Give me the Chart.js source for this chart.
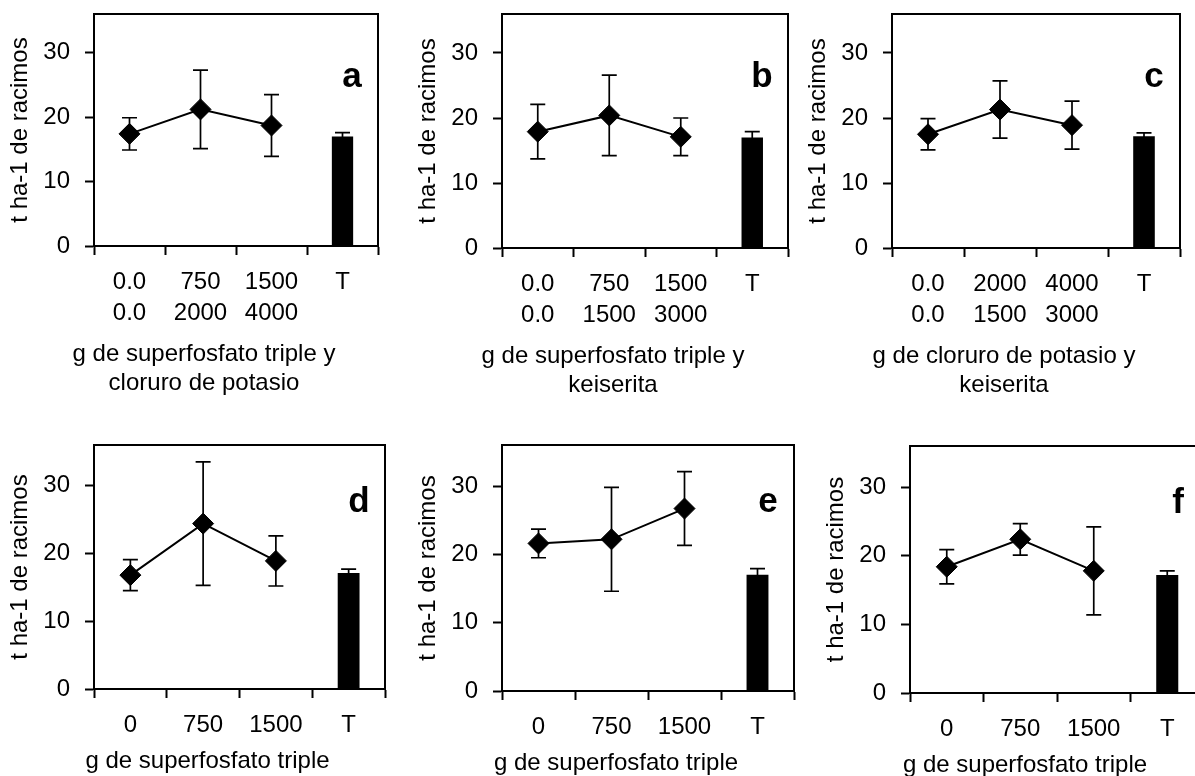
<!DOCTYPE html>
<html lang="es">
<head>
<meta charset="UTF-8">
<title>Rendimiento de racimos</title>
<script src="https://cdn.jsdelivr.net/npm/chart.js@4"></script>
<style>
  html, body { margin: 0; padding: 0; background: #fff; overflow: hidden; }
  body { width: 1195px; height: 776px; position: relative; }
  canvas { position: absolute; }
</style>
</head>
<body>
<script>
// etiquetas del eje x (dosis en g por planta)
const etiquetasA = [['0.0', '0.0'], ['750', '2000'], ['1500', '4000'], 'T'];
const etiquetasB = [['0.0', '0.0'], ['750', '1500'], ['1500', '3000'], 'T'];
const etiquetasC = [['0.0', '0.0'], ['2000', '1500'], ['4000', '3000'], 'T'];
const etiquetasD = ['0', '750', '1500', 'T'];
const ticksY = [0, 10, 20, 30];

// medias de rendimiento (t ha-1) y error de cada tratamiento
const mediaA = [17.4, 21.2, 18.7];
const errorA = [2.5, 6.1, 4.8];
const mediaB = [17.9, 20.4, 17.1];
const errorB = [4.2, 6.2, 2.9];
const mediaC = [17.5, 21.3, 18.9];
const errorC = [2.4, 4.4, 3.7];
const mediaD = [16.8, 24.4, 18.9];
const errorD = [2.3, 9.1, 3.7];
const mediaE = [21.6, 22.2, 26.7];
const errorE = [2.1, 7.6, 5.4];
const mediaF = [18.4, 22.4, 17.8];
const errorF = [2.5, 2.3, 6.4];

// testigo (T)
const testigo = [17.0, 17.0, 17.2, 17.1, 17.0, 17.2];
const errorTestigo = [0.6, 0.9, 0.5, 0.6, 0.9, 0.6];

const letras = ['a', 'b', 'c', 'd', 'e', 'f'];
const titulosX = [
  ['g de superfosfato triple y', 'cloruro de potasio'],
  ['g de superfosfato triple y', 'keiserita'],
  ['g de cloruro de potasio y', 'keiserita'],
  ['g de superfosfato triple'],
  ['g de superfosfato triple'],
  ['g de superfosfato triple']
];
const tituloY = 't ha-1 de racimos';

// recuadro del área de trazado [izq, arriba, der, abajo] y fila
const cajas = [
  [94, 14, 378, 246, 0],
  [502, 14, 788, 248, 0],
  [892, 14, 1180, 248, 0],
  [94, 445, 385, 689, 1],
  [502, 445, 794, 691, 1],
  [910, 446, 1204, 693, 1]
];
const filas = [
  { top: 0, alto: 400, tituloDy: 108, letraDy: 73 },
  { top: 420, alto: 356, tituloDy: 72, letraDy: 67 }
];

const FUENTE = '"Liberation Sans", Arial, sans-serif';
Chart.defaults.font.family = FUENTE;
Chart.defaults.color = '#000';

const ANCHO_Y = 94;

// barras de error, recuadro, letra del panel y título del eje x
const marcoPanel = {
  id: 'marcoPanel',
  afterDatasetsDraw(chart, args, opts) {
    const { ctx, chartArea: a } = chart;
    const y = chart.scales.y;
    ctx.save();
    ctx.strokeStyle = '#000';
    ctx.fillStyle = '#000';

    ctx.lineWidth = 1.7;
    chart.data.datasets.forEach((ds, i) => {
      const meta = chart.getDatasetMeta(i);
      meta.data.forEach((el, j) => {
        const v = ds.data[j];
        const e = ds.errores[j];
        if (v == null || e == null) return;
        const y1 = y.getPixelForValue(v + e);
        const y2 = y.getPixelForValue(v - e);
        ctx.beginPath();
        ctx.moveTo(el.x, y1); ctx.lineTo(el.x, y2);
        ctx.moveTo(el.x - 7.5, y1); ctx.lineTo(el.x + 7.5, y1);
        ctx.moveTo(el.x - 7.5, y2); ctx.lineTo(el.x + 7.5, y2);
        ctx.stroke();
      });
    });

    ctx.lineWidth = 2;
    ctx.strokeRect(a.left, a.top, a.right - a.left, a.bottom - a.top);

    ctx.font = 'bold 35px ' + FUENTE;
    ctx.textAlign = 'center';
    ctx.textBaseline = 'alphabetic';
    ctx.fillText(opts.letra, a.right - 26, a.top + opts.letraDy);

    ctx.font = '24px ' + FUENTE;
    ctx.textBaseline = 'middle';
    const cx = (a.left + a.right) / 2 - 32;
    opts.titulo.forEach((linea, k) => {
      ctx.fillText(linea, cx, a.bottom + opts.tituloDy + k * 29);
    });
    ctx.restore();
  }
};

function panel(n, etiquetas, media, error) {
  const [izq, arriba, der, abajo, f] = cajas[n];
  const fila = filas[f];
  const canvas = document.createElement('canvas');
  const left = izq - ANCHO_Y;
  canvas.width = der + 2 - left;
  canvas.height = fila.alto;
  canvas.style.left = left + 'px';
  canvas.style.top = fila.top + 'px';
  document.body.appendChild(canvas);

  const altoX = fila.alto - (abajo - fila.top);

  new Chart(canvas, {
    type: 'bar',
    data: {
      labels: etiquetas,
      datasets: [
        {
          type: 'line',
          data: media.concat([null]),
          errores: error.concat([null]),
          borderColor: '#000',
          borderWidth: 2,
          pointStyle: 'rectRot',
          pointRadius: 10.5,
          pointBackgroundColor: '#000',
          pointBorderColor: '#000',
          pointBorderWidth: 1,
          tension: 0,
          fill: false
        },
        {
          type: 'bar',
          data: [null, null, null, testigo[n]],
          errores: [null, null, null, errorTestigo[n]],
          backgroundColor: '#000',
          barPercentage: 0.3,
          categoryPercentage: 1
        }
      ]
    },
    options: {
      responsive: false,
      animation: false,
      layout: { autoPadding: false, padding: { left: 0, right: 2, top: arriba - fila.top, bottom: 0 } },
      plugins: {
        legend: { display: false },
        tooltip: { enabled: false },
        marcoPanel: {
          letra: letras[n],
          letraDy: fila.letraDy,
          titulo: titulosX[n],
          tituloDy: fila.tituloDy
        }
      },
      scales: {
        x: {
          offset: true,
          grid: { offset: true, drawOnChartArea: false, drawTicks: true, tickLength: 9, tickColor: '#000', tickWidth: 2 },
          border: { display: true, color: '#000', width: 2 },
          ticks: {
            autoSkip: false, maxRotation: 0, padding: 12, color: '#000',
            font: { size: 24, lineHeight: 1.3 }
          },
          afterFit(s) { s.height = altoX; s.paddingLeft = 0; s.paddingRight = 0; }
        },
        y: {
          min: 0,
          max: 36,
          grid: { drawOnChartArea: false, drawTicks: true, tickLength: 9, tickColor: '#000', tickWidth: 2 },
          border: { display: true, color: '#000', width: 2 },
          ticks: { padding: 15, color: '#000', font: { size: 24 } },
          afterBuildTicks(s) { s.ticks = ticksY.map(v => ({ value: v })); },
          title: {
            display: true,
            text: tituloY,
            color: '#000',
            font: { size: 24, lineHeight: 1.2 },
            padding: { top: 6, bottom: 0 }
          },
          afterFit(s) { s.width = ANCHO_Y; s.paddingTop = 0; s.paddingBottom = 0; }
        }
      }
    },
    plugins: [marcoPanel]
  });
}

panel(0, etiquetasA, mediaA, errorA);
panel(1, etiquetasB, mediaB, errorB);
panel(2, etiquetasC, mediaC, errorC);
panel(3, etiquetasD, mediaD, errorD);
panel(4, etiquetasD, mediaE, errorE);
panel(5, etiquetasD, mediaF, errorF);
</script>
</body>
</html>
